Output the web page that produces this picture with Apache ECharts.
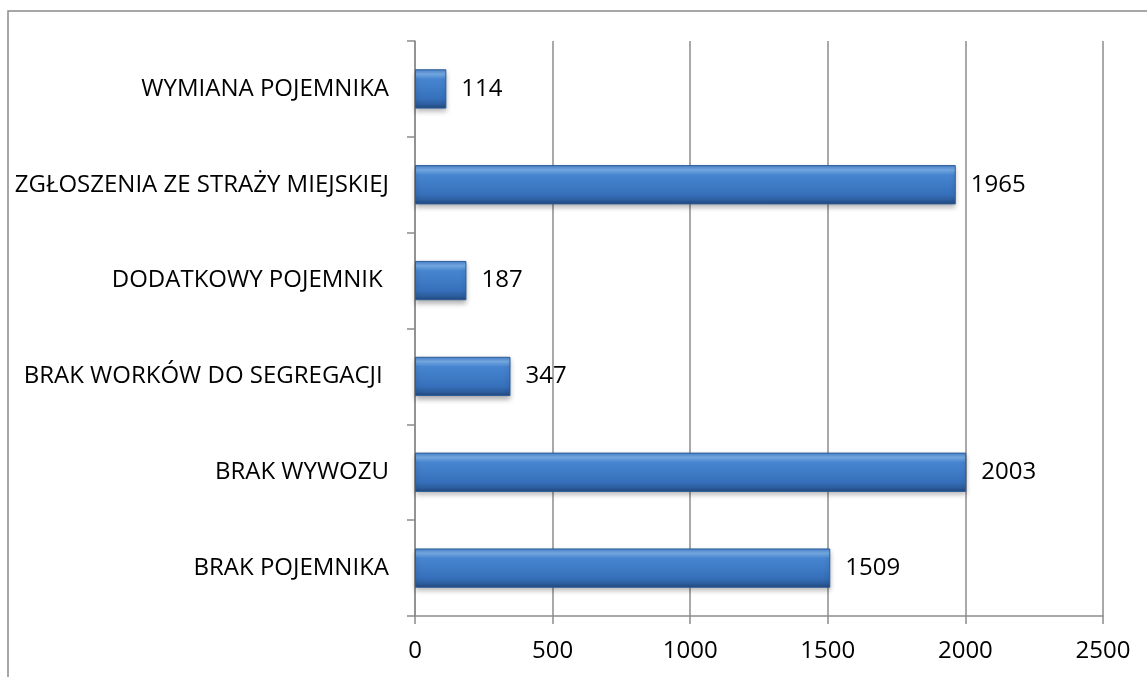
<!DOCTYPE html>
<html>
<head>
<meta charset="utf-8">
<script src="https://cdn.jsdelivr.net/npm/echarts@6/dist/echarts.min.js"></script>
<style>
html, body { margin: 0; padding: 0; background: #fff; }
#chart { width: 1147px; height: 677px; }
</style>
</head>
<body>
<div id="chart"></div>
<script>
let chart = echarts.init(document.getElementById('chart'))

const categories = ['BRAK POJEMNIKA', 'BRAK WYWOZU', 'BRAK WORKÓW DO SEGREGACJI ', 'DODATKOWY POJEMNIK ', 'ZGŁOSZENIA ZE STRAŻY MIEJSKIEJ', 'WYMIANA POJEMNIKA']
const values = [1509, 2003, 347, 187, 1965, 114]
const xTicks = [0, 500, 1000, 1500, 2000, 2500]

const font = '"Open Sans", "Liberation Sans", sans-serif'
const grey = '#8c8c8c'

let option = {
    backgroundColor: '#fff',
    animation: false,
    graphic: [
        {
            type: 'rect',
            shape: { x: 8, y: 11, width: 1160, height: 700 },
            style: { fill: 'none', stroke: '#8a8a8a', lineWidth: 1.5 },
            silent: true
        }
    ],
    grid: {
        left: 415,
        right: 44,
        top: 41,
        bottom: 61
    },
    xAxis: {
        type: 'value',
        min: xTicks[0],
        max: xTicks[xTicks.length - 1],
        interval: 500,
        axisLine: { show: true, lineStyle: { color: grey, width: 1.5 } },
        axisTick: { show: true, length: 8, lineStyle: { color: grey, width: 1.5 } },
        splitLine: { show: true, lineStyle: { color: grey, width: 1.5 } },
        axisLabel: {
            color: '#000',
            fontSize: 24,
            fontFamily: font,
            margin: 23,
            formatter: v => String(v)
        }
    },
    yAxis: {
        type: 'category',
        data: categories,
        axisLine: { show: true, lineStyle: { color: grey, width: 1.5 } },
        axisTick: { show: true, length: 8, lineStyle: { color: grey, width: 1.5 } },
        axisLabel: {
            color: '#000',
            fontSize: 24,
            fontFamily: font,
            margin: 26
        }
    },
    series: [
        {
            type: 'bar',
            data: values,
            barWidth: '41%',
            itemStyle: {
                color: new echarts.graphic.LinearGradient(0, 0, 0, 1, [
                    { offset: 0, color: '#4580cc' },
                    { offset: 0.12, color: '#78aee8' },
                    { offset: 0.25, color: '#4785d0' },
                    { offset: 0.75, color: '#3670bb' },
                    { offset: 0.9, color: '#2c5c9c' },
                    { offset: 1, color: '#22457a' }
                ]),
                borderColor: '#2c5c98',
                borderWidth: 1,
                shadowColor: 'rgba(0,0,0,0.3)',
                shadowBlur: 5,
                shadowOffsetY: 3
            },
            label: {
                show: true,
                position: 'right',
                distance: 15,
                color: '#000',
                fontSize: 24,
                fontFamily: font
            }
        }
    ]
}

chart.setOption(option)
</script>
</body>
</html>
